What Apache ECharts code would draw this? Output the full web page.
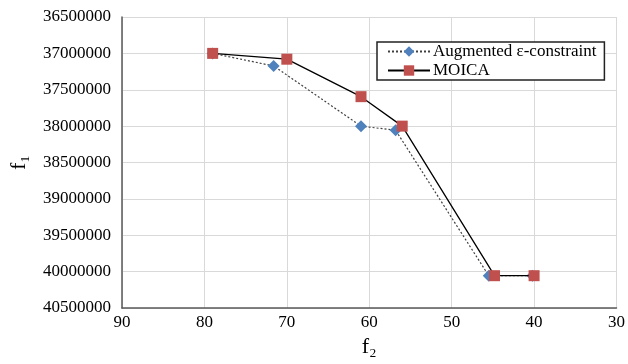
<!DOCTYPE html>
<html>
<head>
<meta charset="utf-8">
<script src="https://cdn.jsdelivr.net/npm/echarts@6/dist/echarts.min.js"></script>
<style>
html,body{margin:0;padding:0;background:#fff;}
#chart{width:628px;height:364px;}
</style>
</head>
<body>
<div id="chart"></div>
<script>
const seriesNames = ['Augmented ε-constraint', 'MOICA'];
const augX = [79, 71.6, 61, 56.8, 45.5, 40.2];
const augY = [37000000, 37173000, 38000000, 38057000, 40056000, 40056000];
const moicaX = [79, 70, 61, 56, 44.8, 40];
const moicaY = [37000000, 37080000, 37595000, 38000000, 40056000, 40056000];
const xTicks = [90, 80, 70, 60, 50, 40, 30];
const yTicks = [36500000, 37000000, 37500000, 38000000, 38500000, 39000000, 39500000, 40000000, 40500000];

const font = 'Liberation Serif, Times New Roman, serif';
const pair = (xs, ys) => xs.map((x, i) => [x, ys[i]]);

const chart = echarts.init(document.getElementById('chart'));
chart.setOption({
  animation: false,
  backgroundColor: '#fff',
  grid: {left: 121.5, right: 11, top: 17, bottom: 56},
  legend: {
    orient: 'vertical',
    left: 377, top: 42,
    width: 226,
    padding: [1, 8, 1, 10],
    itemGap: 2,
    itemWidth: 42, itemHeight: 13,
    borderColor: '#222', borderWidth: 1.5,
    backgroundColor: '#fff',
    textStyle: {fontFamily: font, fontSize: 17, color: '#000', padding: [0, 0, 0, -2]},
    data: seriesNames
  },
  xAxis: {
    type: 'value', inverse: true,
    min: xTicks[xTicks.length - 1], max: xTicks[0], interval: 10,
    name: 'f\u2082',
    nameLocation: 'middle', nameGap: 26,
    nameTextStyle: {fontFamily: font, fontSize: 22, color: '#000'},
    axisLine: {show: true, lineStyle: {color: '#595959', width: 1.5}},
    axisTick: {show: false},
    axisLabel: {fontFamily: font, fontSize: 17, color: '#000', margin: 6},
    splitLine: {show: true, lineStyle: {color: '#d9d9d9', width: 1}}
  },
  yAxis: {
    type: 'value', inverse: true,
    min: yTicks[0], max: yTicks[yTicks.length - 1], interval: 500000,
    name: 'f\u2081',
    nameLocation: 'middle', nameGap: 92, nameRotate: 90,
    nameTextStyle: {fontFamily: font, fontSize: 22, color: '#000'},
    axisLine: {show: true, lineStyle: {color: '#595959', width: 1.5}},
    axisTick: {show: false},
    axisLabel: {fontFamily: font, fontSize: 17, color: '#000', margin: 11, formatter: v => String(v)},
    splitLine: {show: true, lineStyle: {color: '#d9d9d9', width: 1}}
  },
  series: [
    {
      name: seriesNames[0], type: 'line', data: pair(augX, augY),
      symbol: 'diamond', symbolSize: 12,
      itemStyle: {color: '#4F81BD'},
      lineStyle: {color: '#404040', width: 1.2, type: [2, 2]},
      z: 2
    },
    {
      name: seriesNames[1], type: 'line', data: pair(moicaX, moicaY),
      symbol: 'rect', symbolSize: 11,
      itemStyle: {color: '#C0504D'},
      lineStyle: {color: '#000', width: 1.3},
      z: 3
    }
  ]
});
</script>
</body>
</html>
